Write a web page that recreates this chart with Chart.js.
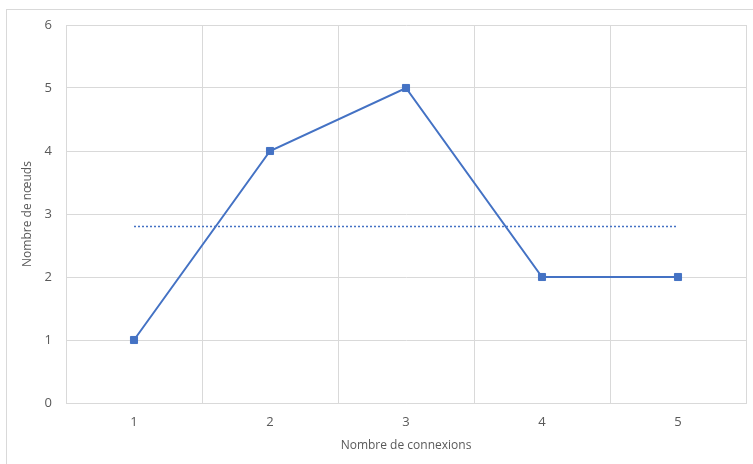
<!DOCTYPE html>
<html>
<head>
<meta charset="utf-8">
<script src="https://cdn.jsdelivr.net/npm/chart.js@4"></script>
<style>
  html, body { margin: 0; padding: 0; background: #fff; }
  #wrap { width: 753px; height: 464px; }
</style>
</head>
<body>
<div id="wrap"><canvas id="chart-nodes" width="753" height="464"></canvas></div>
<script>
const connexions = ['1', '2', '3', '4', '5'];
const noeuds = [1, 4, 5, 2, 2];
const moyenne = [2.8, 2.8, 2.8, 2.8, 2.8];
const yTicks = [0, 1, 2, 3, 4, 5, 6];

const blue = '#4472C4';
const gridGrey = '#d9d9d9';
const textGrey = '#595959';

// light frame around the whole chart, like the office export
const framePlugin = {
  id: 'frame',
  beforeDraw(chart) {
    const ctx = chart.ctx;
    ctx.save();
    ctx.strokeStyle = gridGrey;
    ctx.lineWidth = 1;
    ctx.strokeRect(6.5, 9.5, 760, 470);
    ctx.restore();
  }
};

let nodesCanvas = document.getElementById('chart-nodes');

let nodesChart = new Chart(nodesCanvas, {
  type: 'line',
  data: {
    labels: connexions,
    datasets: [{
      label: 'Nombre de nœuds',
      data: noeuds,
      borderColor: blue,
      backgroundColor: blue,
      borderWidth: 2,
      pointStyle: 'rect',
      pointRadius: 5,
      pointBorderWidth: 1,
      tension: 0
    }, {
      label: 'Moyenne',
      data: moyenne,
      borderColor: blue,
      borderWidth: 1.5,
      borderDash: [2, 2],
      pointRadius: 0,
      tension: 0
    }]
  },
  options: {
    responsive: false,
    animation: false,
    layout: { padding: { left: 0, right: 7, top: 25, bottom: 0 } },
    plugins: {
      legend: { display: false },
      tooltip: { enabled: false }
    },
    scales: {
      x: {
        offset: true,
        grid: { offset: true, color: gridGrey, drawTicks: false },
        border: { color: gridGrey },
        ticks: { color: textGrey, font: { family: 'Open Sans', size: 13 }, padding: 11 },
        title: {
          display: true,
          text: 'Nombre de connexions',
          color: textGrey,
          font: { family: 'Open Sans', size: 12 },
          padding: { top: 0, bottom: 11 }
        },
        afterFit(scale) { scale.height = 61; }
      },
      y: {
        min: 0,
        max: 6,
        afterBuildTicks(scale) { scale.ticks = yTicks.map(v => ({ value: v })); },
        grid: { color: gridGrey, drawTicks: false },
        border: { color: gridGrey },
        ticks: { color: textGrey, font: { family: 'Open Sans', size: 13 }, padding: 14 },
        title: {
          display: true,
          text: 'Nombre de nœuds',
          color: textGrey,
          font: { family: 'Open Sans', size: 12 },
          padding: { top: 20, bottom: 0 }
        },
        afterFit(scale) { scale.width = 66; }
      }
    }
  },
  plugins: [framePlugin]
});
</script>
</body>
</html>
